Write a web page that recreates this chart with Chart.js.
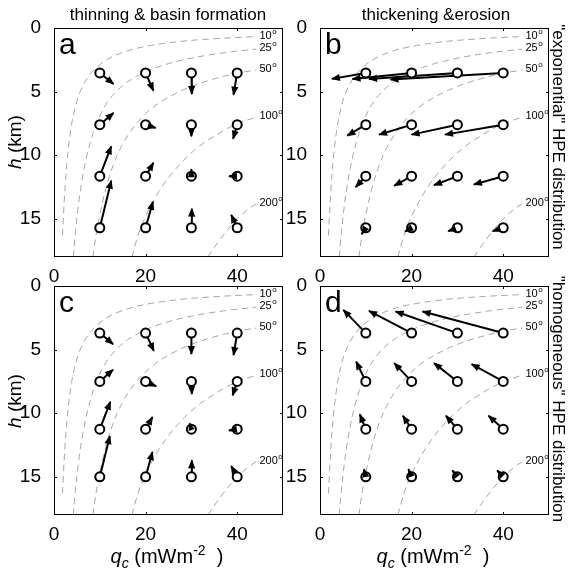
<!DOCTYPE html>
<html>
<head>
<meta charset="utf-8">
<script src="https://cdn.jsdelivr.net/npm/chart.js@4.4.1/dist/chart.umd.min.js"></script>
<style>
body { margin: 0; background: #fff; width: 572px; height: 576px; position: relative; overflow: hidden;
       font-family: "Liberation Sans", Arial, sans-serif; color: #000; }
canvas { position: absolute; }
.txt { position: absolute; white-space: pre; transform: translate(-50%, -50%); }
.title { font-size: 17px; }
.ylab { font-size: 19px; transform: translate(-50%, -50%) rotate(-90deg); }
.rlab { font-size: 17px; transform: translate(-50%, -50%) rotate(90deg); }
.xlab { font-size: 20px; }
sub, sup { font-size: 14px; line-height: 0; }
</style>
</head>
<body>
<canvas id="pa" width="300" height="290" style="left:0;top:0"></canvas>
<canvas id="pb" width="300" height="290" style="left:266px;top:0"></canvas>
<canvas id="pc" width="300" height="290" style="left:0;top:258px"></canvas>
<canvas id="pd" width="300" height="290" style="left:266px;top:258px"></canvas>

<div class="txt title" style="left:168px;top:15px">thinning &amp; basin formation</div>
<div class="txt title" style="left:436px;top:15px">thickening &amp;erosion</div>
<div class="txt ylab" style="left:15px;top:142px"><i>h</i> (km)</div>
<div class="txt ylab" style="left:15px;top:401px"><i>h</i> (km)</div>
<div class="txt rlab" style="left:558px;top:137px">"exponential" HPE distribution</div>
<div class="txt rlab" style="left:558px;top:399px">"homogeneous" HPE distribution</div>
<div class="txt xlab" style="left:167px;top:556px"><i>q<sub>c</sub></i> (mWm<sup>-2</sup>  )</div>
<div class="txt xlab" style="left:433px;top:556px"><i>q<sub>c</sub></i> (mWm<sup>-2</sup>  )</div>

<script>
// axis ticks
const qTicks = [0, 20, 40];
const hTicks = [0, 5, 10, 15];

// start points of the arrows
const gridQ = [10, 20, 30, 40];
const rowsExp = [3.53, 7.6, 11.65, 15.7];   // top panels
const rowsHom = [3.7, 7.5, 11.25, 15.0];    // bottom panels

// isotherms [q, h]
const iso10 = [[1.85,16.3],[2.2,13.8],[2.6,11.6],[3.1,9.6],[3.7,7.9],[4.5,6.4],[5.5,5.2],[7,4.1],[9,3.2],[12,2.4],[16,1.8],[21,1.38],[28,1.04],[36,0.82],[44.2,0.67]];
const iso25 = [[4.2,18],[4.7,16],[5.3,14],[6.1,12],[7.2,10],[8.6,8.2],[10.4,6.6],[12.8,5.3],[16,4.25],[20,3.45],[25,2.8],[31,2.3],[37.5,1.93],[44.2,1.66]];
const iso50 = [[8.5,18],[9.3,16],[10.4,14],[11.8,12],[13.8,10],[16.2,8.4],[19,7.1],[22.5,6.0],[26.5,5.15],[31,4.45],[36,3.9],[40,3.55],[44.2,3.3]];
const iso100 = [[17,18],[18.5,16.1],[20,14.8],[22,13.4],[24.5,12],[27.5,10.7],[31,9.5],[35,8.5],[39.5,7.6],[44.2,7.0]];
const iso200 = [[33.6,18],[35.5,17],[37.6,16],[40,15],[42.2,14.3],[44.2,13.8]];
const isoCurves = [iso10, iso25, iso50, iso100, iso200];
const isoLabels = ['10', '25', '50', '100', '200'];

// arrow tips [q, h], row by row, q = 10, 20, 30, 40
const tipsA = [
  [13.0,4.4],[21.7,4.92],[30.1,5.18],[39.2,5.24],
  [13.0,6.68],[22.2,7.85],[30.0,8.5],[39.1,8.7],
  [12.5,9.3],[21.7,10.6],[30.0,11.1],[38.2,11.65],
  [12.5,12.0],[21.6,13.66],[30.1,14.2],[38.7,14.7]
];
const tipsB = [
  [2.6,4.0],[7.1,4.0],[10.7,4.0],[15.4,4.05],
  [5.97,8.46],[12.9,8.38],[20.0,8.38],[27.3,8.38],
  [7.8,12.5],[16.2,12.4],[24.9,12.35],[33.6,12.3],
  [9.1,16.2],[18.6,16.0],[28.0,15.97],[37.7,15.97]
];
const tipsC = [
  [12.9,4.57],[21.8,5.1],[30.0,5.35],[39.2,5.43],
  [12.9,6.58],[22.3,7.88],[30.1,8.49],[39.0,8.6],
  [12.3,9.1],[21.5,10.3],[29.6,10.8],[38.2,11.36],
  [12.2,11.8],[21.5,13.05],[30.1,13.7],[38.7,14.15]
];
const tipsD = [
  [5.1,1.88],[10.7,1.96],[16.5,2.0],[22.4,2.0],
  [7.9,5.95],[16.2,6.06],[24.9,6.06],[33.1,6.14],
  [8.7,10.1],[18.1,10.2],[27.5,10.2],[36.8,10.2],
  [9.6,14.4],[19.3,14.4],[28.9,14.5],[38.7,14.5]
];

const FONT = '"Liberation Sans", Arial, sans-serif';

// arrowheads, frame, inward ticks, isotherm labels and the panel letter
const panelPlugin = {
    id: 'panel',
    afterDatasetsDraw(chart) {
        const ctx = chart.ctx;
        ctx.save();
        ctx.fillStyle = '#000';
        chart.data.datasets.forEach((ds, i) => {
            if (!ds.arrow) return;
            const pts = chart.getDatasetMeta(i).data;
            const x0 = pts[0].x, y0 = pts[0].y, x1 = pts[1].x, y1 = pts[1].y;
            const len = Math.hypot(x1 - x0, y1 - y0);
            if (len < 0.5) return;
            const ux = (x1 - x0) / len, uy = (y1 - y0) / len;
            const hl = Math.min(8, len + 1), hw = hl * 0.45;
            ctx.beginPath();
            ctx.moveTo(x1 + ux, y1 + uy);
            ctx.lineTo(x1 - ux * hl - uy * hw, y1 - uy * hl + ux * hw);
            ctx.lineTo(x1 - ux * hl + uy * hw, y1 - uy * hl - ux * hw);
            ctx.closePath();
            ctx.fill();
        });
        ctx.restore();
    },
    afterDraw(chart) {
        const ctx = chart.ctx;
        const a = chart.chartArea;
        const xs = chart.scales.x, ys = chart.scales.y;
        ctx.save();
        ctx.strokeStyle = '#000';
        ctx.lineWidth = 1;
        ctx.strokeRect(Math.round(a.left) + 0.5, Math.round(a.top) + 0.5,
                       Math.round(a.right - a.left) - 1, Math.round(a.bottom - a.top) - 1);
        ctx.beginPath();
        qTicks.forEach(v => {
            const px = Math.round(xs.getPixelForValue(v)) + 0.5;
            ctx.moveTo(px, a.top); ctx.lineTo(px, a.top + 3);
            ctx.moveTo(px, a.bottom); ctx.lineTo(px, a.bottom - 3);
        });
        hTicks.forEach(v => {
            const py = Math.round(ys.getPixelForValue(v)) + 0.5;
            ctx.moveTo(a.left, py); ctx.lineTo(a.left + 3, py);
            ctx.moveTo(a.right, py); ctx.lineTo(a.right - 3, py);
        });
        ctx.stroke();

        // isotherm labels next to the end of each curve
        ctx.fillStyle = '#000';
        ctx.textBaseline = 'middle';
        chart.data.datasets.forEach((ds, i) => {
            if (!ds.isoLabel) return;
            const pts = chart.getDatasetMeta(i).data;
            const p = pts[pts.length - 1];
            const x = p.x + 3, y = p.y - 1;
            ctx.font = '11px ' + FONT;
            ctx.fillText(ds.isoLabel, x, y);
            const w = ctx.measureText(ds.isoLabel).width;
            ctx.font = '8px ' + FONT;
            ctx.fillText('o', x + w + 0.5, y - 4);
        });

        const letter = chart.options.plugins.panel.letter;
        ctx.font = '30px ' + FONT;
        ctx.textBaseline = 'alphabetic';
        ctx.fillText(letter, a.left + 5, a.top + 26);
        ctx.restore();
    }
};

function makePanel(id, letter, rows, tips) {
    const datasets = [];

    // open circles at the start points (drawn on top)
    const starts = [];
    rows.forEach(h => gridQ.forEach(q => starts.push({x: q, y: h})));
    datasets.push({
        data: starts,
        showLine: false,
        pointStyle: 'circle',
        pointRadius: 4.5,
        pointBorderWidth: 2,
        pointBackgroundColor: '#fff',
        pointBorderColor: '#000',
        order: 0
    });

    // arrow shafts
    starts.forEach((s, k) => {
        datasets.push({
            arrow: true,
            data: [s, {x: tips[k][0], y: tips[k][1]}],
            showLine: true,
            borderColor: '#000',
            borderWidth: 2,
            pointRadius: 0,
            order: 1
        });
    });

    // isotherms
    isoCurves.forEach((c, k) => {
        datasets.push({
            isoLabel: isoLabels[k],
            data: c.map(p => ({x: p[0], y: p[1]})),
            showLine: true,
            borderColor: '#a6a6a6',
            borderWidth: 1,
            borderDash: [6.5, 4.5],
            cubicInterpolationMode: 'monotone',
            pointRadius: 0,
            order: 2
        });
    });

    return new Chart(document.getElementById(id), {
        type: 'scatter',
        data: {datasets: datasets},
        plugins: [panelPlugin],
        options: {
            responsive: false,
            animation: false,
            devicePixelRatio: 1,
            events: [],
            layout: {padding: {top: 28, right: 17, left: 0, bottom: 0}},
            plugins: {
                legend: {display: false},
                tooltip: {enabled: false},
                panel: {letter: letter}
            },
            scales: {
                x: {
                    type: 'linear', min: 0, max: 50,
                    grid: {display: false},
                    border: {display: false},
                    afterFit: s => { s.height = 33; },
                    afterBuildTicks: s => { s.ticks = qTicks.map(v => ({value: v})); },
                    ticks: {color: '#000', font: {family: FONT, size: 19}, padding: 0, maxRotation: 0, autoSkip: false}
                },
                y: {
                    type: 'linear', min: 0, max: 18, reverse: true,
                    grid: {display: false},
                    border: {display: false},
                    afterFit: s => { s.width = 54; },
                    afterBuildTicks: s => { s.ticks = hTicks.map(v => ({value: v})); },
                    ticks: {color: '#000', font: {family: FONT, size: 19}, padding: 5, autoSkip: false}
                }
            }
        }
    });
}

makePanel('pa', 'a', rowsExp, tipsA);
makePanel('pb', 'b', rowsExp, tipsB);
makePanel('pc', 'c', rowsHom, tipsC);
makePanel('pd', 'd', rowsHom, tipsD);
</script>
</body>
</html>
